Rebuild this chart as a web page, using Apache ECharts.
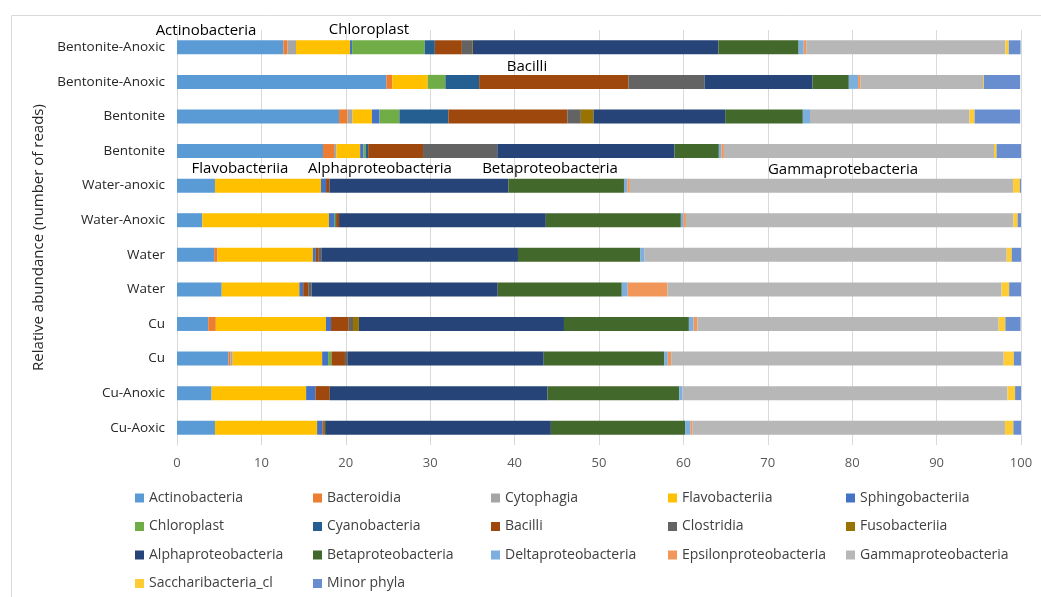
<!DOCTYPE html>
<html>
<head>
<meta charset="utf-8">
<script src="https://cdn.jsdelivr.net/npm/echarts@6/dist/echarts.min.js"></script>
<style>html,body{margin:0;padding:0;background:#fff;}#c{width:1041px;height:597px;}</style>
</head>
<body>
<div id="c"></div>
<script>
const categories = ['Bentonite-Anoxic','Bentonite-Anoxic','Bentonite','Bentonite','Water-anoxic','Water-Anoxic','Water','Water','Cu','Cu','Cu-Anoxic','Cu-Aoxic'];
const xTicks = [0,10,20,30,40,50,60,70,80,90,100];

const actinobacteria = [12.6, 24.8, 19.2, 17.3, 4.5, 3.0, 4.4, 5.3, 3.7, 6.1, 4.1, 4.5];
const bacteroidia = [0.5, 0.7, 1.0, 1.3, 0, 0, 0.4, 0, 0.9, 0.25, 0, 0];
const cytophagia = [1.0, 0, 0.6, 0.3, 0, 0, 0, 0, 0, 0.25, 0, 0];
const flavobacteriia = [6.4, 4.2, 2.3, 2.8, 12.56, 15.0, 11.3, 9.2, 13.05, 10.6, 11.2, 12.1];
const sphingobacteriia = [0.25, 0, 0.9, 0.4, 0.6, 0.6, 0.35, 0.45, 0.6, 0.7, 1.1, 0.65];
const chloroplast = [8.6, 2.1, 2.35, 0.25, 0, 0.15, 0, 0, 0, 0.4, 0, 0];
const cyanobacteria = [1.2, 4.0, 5.8, 0.3, 0, 0.1, 0, 0, 0, 0, 0, 0];
const bacilli = [3.2, 17.7, 14.1, 6.5, 0.4, 0.35, 0.35, 0.6, 2.1, 1.6, 1.7, 0.15];
const clostridia = [1.2, 9.0, 1.6, 8.8, 0, 0, 0.3, 0.4, 0.5, 0.35, 0, 0];
const fusobacteriia = [0.1, 0, 1.5, 0, 0, 0, 0, 0, 0.7, 0, 0, 0.15];
const alphaproteobacteria = [29.1, 12.8, 15.6, 21.0, 21.2, 24.5, 23.3, 22.05, 24.3, 23.2, 25.8, 26.75];
const betaproteobacteria = [9.5, 4.3, 9.2, 5.25, 13.7, 16.0, 14.5, 14.7, 14.8, 14.3, 15.6, 15.9];
const deltaproteobacteria = [0.6, 1.1, 0.85, 0.3, 0.4, 0.3, 0.5, 0.7, 0.55, 0.4, 0.4, 0.65];
const epsilonproteobacteria = [0.3, 0.3, 0, 0.3, 0.3, 0.3, 0, 4.7, 0.45, 0.4, 0, 0.25];
const gammaproteobacteria = [23.6, 14.5, 18.9, 32.0, 45.4, 38.8, 42.9, 39.6, 35.7, 39.4, 38.5, 37.0];
const saccharibacteria = [0.4, 0.1, 0.6, 0.3, 0.8, 0.5, 0.6, 0.9, 0.8, 1.2, 0.9, 1.0];
const minorPhyla = [1.4, 4.3, 5.4, 2.9, 0.24, 0.4, 1.1, 1.4, 1.8, 0.9, 0.7, 0.9];

const seriesNames = ['Actinobacteria','Bacteroidia','Cytophagia','Flavobacteriia','Sphingobacteriia','Chloroplast','Cyanobacteria','Bacilli','Clostridia','Fusobacteriia','Alphaproteobacteria','Betaproteobacteria','Deltaproteobacteria','Epsilonproteobacteria','Gammaproteobacteria','Saccharibacteria_cl','Minor phyla'];
const seriesValues = [actinobacteria,bacteroidia,cytophagia,flavobacteriia,sphingobacteriia,chloroplast,cyanobacteria,bacilli,clostridia,fusobacteriia,alphaproteobacteria,betaproteobacteria,deltaproteobacteria,epsilonproteobacteria,gammaproteobacteria,saccharibacteria,minorPhyla];
const colors = ['#5B9BD5','#ED7D31','#A5A5A5','#FFC000','#4472C4','#70AD47','#255E91','#9E480E','#636363','#997300','#264478','#43682B','#7CAFDD','#F1975A','#B7B7B7','#FFCD33','#698ED0'];

const annotations = [
  {text:'Actinobacteria', x:206, y:31},
  {text:'Chloroplast', x:369, y:30},
  {text:'Bacilli', x:527, y:67},
  {text:'Flavobacteriia', x:240, y:169},
  {text:'Alphaproteobacteria', x:380, y:169},
  {text:'Betaproteobacteria', x:550, y:169},
  {text:'Gammaprotebacteria', x:843, y:170}
];

const font = 'Open Sans, Liberation Sans, sans-serif';
const chart = echarts.init(document.getElementById('c'), null, {renderer:'canvas'});

const legendCols = [[0,5,10,15],[1,6,11,16],[2,7,12],[3,8,13],[4,9,14]];
const legendLeft = [135, 313, 491, 668, 846];
const legends = legendCols.map((idx, i) => ({
  orient: 'vertical', left: legendLeft[i], top: 491,
  itemWidth: 9, itemHeight: 9, itemGap: 14.5, icon: 'rect',
  selectedMode: false, padding: 0,
  data: idx.map(k => seriesNames[k]),
  textStyle: {fontFamily: font, fontSize: 14, color: '#404040'}
}));

const option = {
  animation: false,
  color: colors,
  grid: {left: 177, right: 20, top: 30, bottom: 152, containLabel: false},
  xAxis: {
    type: 'value', min: 0, max: 100, interval: 10,
    axisLine: {show: false}, axisTick: {show: false},
    splitLine: {lineStyle: {color: '#d9d9d9', width: 1}},
    axisLabel: {color: '#595959', fontFamily: font, fontSize: 13, margin: 12,
      formatter: v => xTicks.indexOf(v) >= 0 ? String(v) : ''}
  },
  yAxis: {
    type: 'category', inverse: true, data: categories,
    axisLine: {show: true, lineStyle: {color: '#d9d9d9'}},
    axisTick: {show: false},
    axisLabel: {color: '#262626', fontFamily: font, fontSize: 13.5, margin: 12},
    name: 'Relative abundance (number of reads)', nameLocation: 'middle', nameGap: 129,
    nameTextStyle: {color: '#262626', fontFamily: font, fontSize: 15}
  },
  legend: legends,
  series: seriesNames.map((n, i) => ({
    name: n, type: 'bar', stack: 'total', barWidth: 14,
    data: seriesValues[i],
    itemStyle: {color: colors[i]}
  })),
  graphic: [
    {type:'rect', left: 9, top: 13, shape:{width: 1100, height: 700}, style:{fill:'none', stroke:'#d9d9d9', lineWidth:1}, z:-1}
  ].concat(annotations.map(a => ({
    type: 'text', x: a.x, y: a.y,
    style: {text: a.text, fill: '#000', font: '15px ' + font, textAlign: 'center', textVerticalAlign: 'middle'},
    z: 100
  })))
};
chart.setOption(option);
</script>
</body>
</html>
